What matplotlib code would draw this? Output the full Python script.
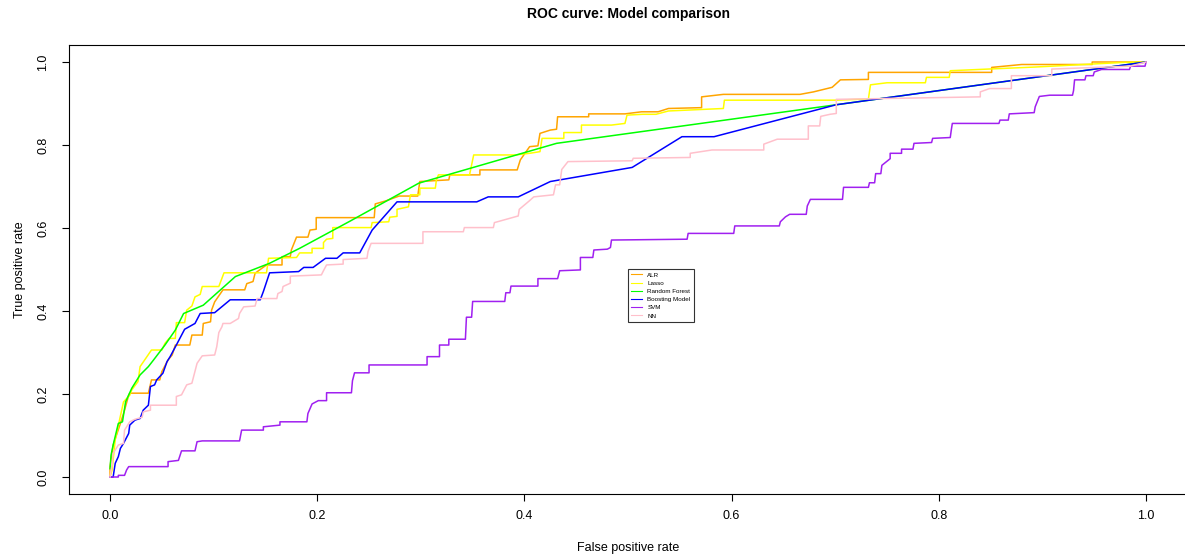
import matplotlib
matplotlib.use("Agg")
import matplotlib.pyplot as plt

plt.rcParams['font.family'] = ['Liberation Sans', 'DejaVu Sans']

# ROC points (false positive rate, true positive rate)
alr_fpr = [0.000, 0.000, 0.003, 0.010, 0.014, 0.018, 0.019, 0.037, 0.040, 0.048, 0.050, 0.056, 0.060, 0.063,
           0.077, 0.079, 0.089, 0.090, 0.097, 0.098, 0.101, 0.109, 0.130, 0.132, 0.138, 0.140, 0.151, 0.166,
           0.166, 0.174, 0.175, 0.180, 0.191, 0.193, 0.199, 0.199, 0.255, 0.256, 0.267, 0.279, 0.297, 0.299,
           0.327, 0.328, 0.357, 0.357, 0.393, 0.396, 0.405, 0.413, 0.415, 0.425, 0.431, 0.432, 0.462, 0.462,
           0.497, 0.513, 0.529, 0.539, 0.571, 0.571, 0.592, 0.666, 0.679, 0.697, 0.705, 0.732, 0.732, 0.851,
           0.851, 0.880, 0.948, 0.948, 1.000]
alr_tpr = [0.000, 0.025, 0.077, 0.129, 0.161, 0.197, 0.202, 0.202, 0.234, 0.234, 0.254, 0.282, 0.294, 0.318,
           0.318, 0.342, 0.342, 0.370, 0.374, 0.402, 0.422, 0.451, 0.451, 0.466, 0.471, 0.491, 0.511, 0.511,
           0.531, 0.531, 0.547, 0.578, 0.578, 0.595, 0.597, 0.625, 0.625, 0.658, 0.666, 0.677, 0.677, 0.712,
           0.716, 0.728, 0.728, 0.740, 0.740, 0.764, 0.796, 0.798, 0.828, 0.836, 0.838, 0.868, 0.868, 0.875,
           0.875, 0.880, 0.880, 0.888, 0.890, 0.916, 0.922, 0.922, 0.928, 0.939, 0.957, 0.958, 0.975, 0.975,
           0.987, 0.994, 0.994, 1.000, 1.000]

lasso_fpr = [0.000, 0.002, 0.005, 0.013, 0.019, 0.021, 0.027, 0.029, 0.040, 0.050, 0.053, 0.057, 0.063, 0.064,
             0.072, 0.074, 0.079, 0.082, 0.087, 0.089, 0.105, 0.110, 0.151, 0.153, 0.180, 0.183, 0.195, 0.195,
             0.206, 0.206, 0.209, 0.215, 0.215, 0.252, 0.253, 0.269, 0.270, 0.277, 0.277, 0.288, 0.290, 0.299,
             0.299, 0.314, 0.315, 0.317, 0.347, 0.351, 0.391, 0.405, 0.415, 0.417, 0.438, 0.438, 0.455, 0.455,
             0.484, 0.497, 0.499, 0.514, 0.527, 0.539, 0.592, 0.593, 0.701, 0.732, 0.734, 0.750, 0.787, 0.788,
             0.810, 0.811, 0.894, 0.978, 1.000]
lasso_tpr = [0.000, 0.017, 0.090, 0.181, 0.197, 0.210, 0.230, 0.266, 0.306, 0.306, 0.322, 0.334, 0.334, 0.372,
             0.372, 0.402, 0.412, 0.434, 0.440, 0.459, 0.459, 0.492, 0.492, 0.527, 0.529, 0.540, 0.540, 0.551,
             0.551, 0.565, 0.573, 0.575, 0.601, 0.601, 0.613, 0.615, 0.626, 0.628, 0.645, 0.651, 0.680, 0.680,
             0.696, 0.696, 0.716, 0.728, 0.728, 0.776, 0.776, 0.780, 0.784, 0.816, 0.816, 0.830, 0.830, 0.848,
             0.848, 0.852, 0.872, 0.874, 0.874, 0.882, 0.888, 0.908, 0.908, 0.911, 0.945, 0.950, 0.950, 0.963,
             0.963, 0.979, 0.988, 0.999, 1.000]

rf_fpr = [0.000, 0.001, 0.003, 0.008, 0.012, 0.015, 0.021, 0.029, 0.037, 0.042, 0.053, 0.063, 0.071, 0.090,
          0.121, 0.154, 0.183, 0.232, 0.298, 0.431, 1.000]
rf_tpr = [0.020, 0.053, 0.077, 0.129, 0.133, 0.181, 0.214, 0.246, 0.266, 0.282, 0.318, 0.354, 0.394, 0.414,
          0.483, 0.515, 0.551, 0.617, 0.708, 0.804, 1.000]

boost_fpr = [0.000, 0.003, 0.005, 0.008, 0.010, 0.013, 0.018, 0.019, 0.024, 0.029, 0.032, 0.037, 0.039, 0.043,
             0.045, 0.051, 0.055, 0.058, 0.064, 0.072, 0.082, 0.087, 0.101, 0.116, 0.145, 0.148, 0.154, 0.182,
             0.187, 0.196, 0.208, 0.219, 0.225, 0.241, 0.253, 0.277, 0.354, 0.365, 0.394, 0.425, 0.504, 0.552,
             0.583, 0.701, 1.000]
boost_tpr = [0.000, 0.000, 0.033, 0.049, 0.069, 0.081, 0.105, 0.125, 0.137, 0.141, 0.161, 0.173, 0.218, 0.222,
             0.234, 0.250, 0.278, 0.290, 0.318, 0.356, 0.370, 0.394, 0.396, 0.427, 0.427, 0.447, 0.492, 0.495,
             0.505, 0.505, 0.527, 0.527, 0.540, 0.540, 0.595, 0.663, 0.663, 0.675, 0.675, 0.712, 0.746, 0.820,
             0.820, 0.897, 1.000]

svm_fpr = [0.000, 0.008, 0.008, 0.014, 0.016, 0.018, 0.056, 0.056, 0.066, 0.069, 0.082, 0.084, 0.089, 0.125,
           0.127, 0.148, 0.148, 0.164, 0.164, 0.190, 0.191, 0.195, 0.201, 0.209, 0.209, 0.233, 0.234, 0.236,
           0.250, 0.250, 0.306, 0.306, 0.318, 0.318, 0.327, 0.327, 0.343, 0.344, 0.349, 0.350, 0.381, 0.382,
           0.386, 0.387, 0.413, 0.413, 0.432, 0.434, 0.454, 0.454, 0.466, 0.467, 0.480, 0.483, 0.484, 0.557,
           0.558, 0.602, 0.603, 0.646, 0.647, 0.652, 0.656, 0.672, 0.673, 0.676, 0.707, 0.708, 0.732, 0.733,
           0.738, 0.739, 0.744, 0.745, 0.753, 0.753, 0.764, 0.764, 0.775, 0.776, 0.793, 0.794, 0.811, 0.812,
           0.813, 0.858, 0.859, 0.867, 0.868, 0.892, 0.893, 0.897, 0.907, 0.929, 0.930, 0.931, 0.941, 0.942,
           0.949, 0.950, 0.957, 0.984, 0.985, 0.999, 1.000]
svm_tpr = [0.000, 0.000, 0.004, 0.004, 0.017, 0.025, 0.025, 0.037, 0.040, 0.063, 0.063, 0.085, 0.087, 0.087,
           0.113, 0.113, 0.121, 0.125, 0.133, 0.133, 0.153, 0.176, 0.184, 0.184, 0.203, 0.203, 0.232, 0.251,
           0.251, 0.270, 0.270, 0.290, 0.290, 0.318, 0.318, 0.332, 0.332, 0.385, 0.385, 0.423, 0.423, 0.444,
           0.444, 0.460, 0.460, 0.478, 0.478, 0.497, 0.499, 0.529, 0.529, 0.547, 0.549, 0.553, 0.571, 0.573,
           0.587, 0.587, 0.605, 0.605, 0.615, 0.627, 0.633, 0.633, 0.653, 0.669, 0.669, 0.698, 0.698, 0.709,
           0.709, 0.731, 0.731, 0.751, 0.767, 0.780, 0.780, 0.790, 0.790, 0.804, 0.806, 0.816, 0.818, 0.836,
           0.852, 0.852, 0.860, 0.860, 0.875, 0.878, 0.892, 0.917, 0.920, 0.920, 0.931, 0.957, 0.957, 0.967,
           0.967, 0.976, 0.982, 0.982, 0.990, 0.990, 1.000]

nn_fpr = [0.000, 0.002, 0.003, 0.008, 0.013, 0.014, 0.019, 0.024, 0.031, 0.032, 0.039, 0.039, 0.064, 0.064,
          0.069, 0.074, 0.079, 0.084, 0.089, 0.101, 0.103, 0.105, 0.108, 0.109, 0.116, 0.124, 0.125, 0.129,
          0.140, 0.142, 0.161, 0.162, 0.166, 0.167, 0.174, 0.174, 0.204, 0.206, 0.209, 0.225, 0.225, 0.248,
          0.249, 0.252, 0.302, 0.302, 0.341, 0.342, 0.370, 0.371, 0.394, 0.395, 0.405, 0.409, 0.428, 0.430,
          0.434, 0.436, 0.442, 0.504, 0.505, 0.560, 0.560, 0.581, 0.631, 0.631, 0.644, 0.674, 0.674, 0.685,
          0.686, 0.695, 0.701, 0.701, 0.840, 0.840, 0.849, 0.870, 0.870, 0.909, 0.909, 0.985, 1.000]
nn_tpr = [0.000, 0.030, 0.057, 0.077, 0.081, 0.113, 0.133, 0.139, 0.144, 0.157, 0.161, 0.173, 0.173, 0.194,
          0.198, 0.222, 0.226, 0.274, 0.292, 0.294, 0.314, 0.348, 0.362, 0.370, 0.370, 0.382, 0.394, 0.410,
          0.412, 0.430, 0.430, 0.442, 0.447, 0.459, 0.467, 0.484, 0.487, 0.497, 0.511, 0.513, 0.524, 0.527,
          0.543, 0.563, 0.563, 0.591, 0.591, 0.601, 0.601, 0.613, 0.629, 0.645, 0.666, 0.675, 0.680, 0.704,
          0.704, 0.741, 0.760, 0.762, 0.768, 0.770, 0.780, 0.788, 0.788, 0.802, 0.814, 0.814, 0.846, 0.846,
          0.869, 0.874, 0.876, 0.910, 0.916, 0.928, 0.936, 0.936, 0.967, 0.967, 0.983, 0.990, 1.000]

models = ["ALR", "Lasso", "Random Forest", "Boosting Model", "SVM", "NN"]
colors = ["orange", "yellow", "#00FF00", "blue", "#A020F0", "pink"]
curves = [(alr_fpr, alr_tpr), (lasso_fpr, lasso_tpr), (rf_fpr, rf_tpr),
          (boost_fpr, boost_tpr), (svm_fpr, svm_tpr), (nn_fpr, nn_tpr)]

fig = plt.figure(figsize=(11.85, 5.59), dpi=100)
W, H = 1185, 559
# R style box: 4% padding around the 0..1 range
ax = fig.add_axes([68.6 / W, 1 - 493.6 / H, (1187.5 - 68.6) / W, (493.6 - 45.4) / H])

for (fx, ty), name, c in zip(curves, models, colors):
    ax.plot(fx, ty, color=c, lw=1.1, label=name)

ax.set_xlim(-0.04, 1.04)
ax.set_ylim(-0.04, 1.04)
ticks = [0.0, 0.2, 0.4, 0.6, 0.8, 1.0]
ax.set_xticks(ticks)
ax.set_yticks(ticks)
ax.set_xticklabels(["%.1f" % t for t in ticks])
ax.set_yticklabels(["%.1f" % t for t in ticks], rotation=90, va="center")
ax.tick_params(axis="both", direction="out", length=5, width=0.8, labelsize=9, colors="black")
ax.tick_params(axis="x", pad=7)
ax.tick_params(axis="y", pad=9)
for s in ax.spines.values():
    s.set_linewidth(0.8)
    s.set_color("black")

ax.set_title("ROC curve: Model comparison", fontsize=10, fontweight="bold", pad=20)
ax.set_xlabel("False positive rate", fontsize=9, labelpad=14)
ax.set_ylabel("True positive rate", fontsize=9, labelpad=8)

leg = ax.legend(loc="upper left", bbox_to_anchor=(0.5, 0.501), bbox_transform=ax.transData,
                fontsize=4.5, frameon=True, fancybox=False, handlelength=1.8, handletextpad=0.8,
                labelspacing=0.45, borderpad=0.5, borderaxespad=0)
leg.get_frame().set_edgecolor("black")
leg.get_frame().set_linewidth(0.8)
for h in leg.get_lines():
    h.set_linewidth(0.8)

fig.savefig("out.png", dpi=100)
